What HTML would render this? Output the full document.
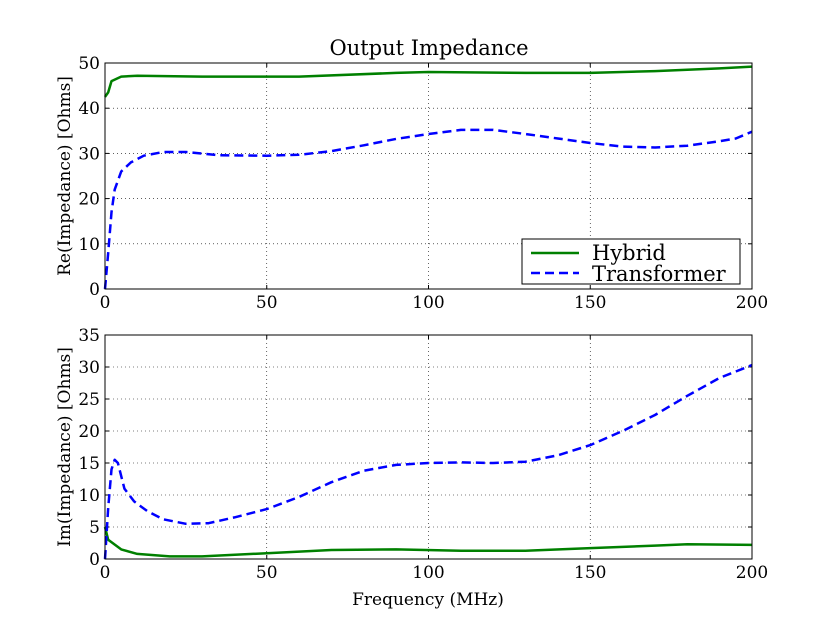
<!DOCTYPE html>
<html><head><meta charset="utf-8"><style>
html,body{margin:0;padding:0;background:#fff;}
svg{display:block;font-family:"DejaVu Serif","Liberation Serif",serif;}
text{font-size:17px;fill:#000;}
</style></head><body>
<svg id="s" width="836" height="624" viewBox="0 0 836 624" xmlns="http://www.w3.org/2000/svg">
<rect width="836" height="624" fill="#fff"/>
<g id="g"></g>
<text x="429" y="55" text-anchor="middle" style="font-size:21px">Output Impedance</text>
<text x="428" y="605" text-anchor="middle">Frequency (MHz)</text>
<text transform="translate(70,176) rotate(-90)" text-anchor="middle">Re(Impedance) [Ohms]</text>
<text transform="translate(70,447) rotate(-90)" text-anchor="middle">Im(Impedance) [Ohms]</text>
<rect x="522" y="239" width="218" height="45" fill="#fff" stroke="#000" stroke-width="1"/>
<line x1="531" y1="253" x2="579" y2="253" stroke="#008000" stroke-width="2.5"/>
<line x1="531" y1="273" x2="579" y2="273" stroke="#0000ff" stroke-width="2.5" stroke-dasharray="9,5"/>
<text x="592" y="260" style="font-size:21px">Hybrid</text>
<text x="592" y="281" style="font-size:21px">Transformer</text>
</svg>
<script>
var g=document.getElementById('g'),NS="http://www.w3.org/2000/svg";
function el(t,a){var e=document.createElementNS(NS,t);for(var k in a)e.setAttribute(k,a[k]);g.appendChild(e);return e;}
var X0=105,X1=752;
function ax(top,bot,ymax,step,series){
 var sx=function(v){return X0+(X1-X0)*v/200},sy=function(v){return bot-(bot-top)*v/ymax};
 for(var v=0;v<=200;v+=50){var x=sx(v);
  if(v>0&&v<200)el('line',{x1:x,y1:top,x2:x,y2:bot,stroke:'#000','stroke-width':0.6,'stroke-dasharray':'1,3'});
  el('line',{x1:x,y1:bot,x2:x,y2:bot-4,stroke:'#000'});el('line',{x1:x,y1:top,x2:x,y2:top+4,stroke:'#000'});
  var t=el('text',{x:x,y:bot+19,'text-anchor':'middle'});t.textContent=v;}
 for(var v=0;v<=ymax;v+=step){var y=sy(v);
  if(v>0&&v<ymax)el('line',{x1:X0,y1:y,x2:X1,y2:y,stroke:'#000','stroke-width':0.6,'stroke-dasharray':'1,3'});
  el('line',{x1:X0,y1:y,x2:X0+4,y2:y,stroke:'#000'});el('line',{x1:X1,y1:y,x2:X1-4,y2:y,stroke:'#000'});
  var t=el('text',{x:X0-5,y:y+6,'text-anchor':'end'});t.textContent=v;}
 series.forEach(function(s){var d=s.p.map(function(p,i){return (i?'L':'M')+sx(p[0]).toFixed(1)+','+sy(p[1]).toFixed(1)}).join('');
  var a={d:d,fill:'none',stroke:s.c,'stroke-width':2.5,'stroke-linejoin':'round'};if(s.dash)a['stroke-dasharray']='9,5';el('path',a);});
 el('rect',{x:X0,y:top,width:X1-X0,height:bot-top,fill:'none',stroke:'#000','stroke-width':1});
}
ax(63,289,50,10,[
 {c:'#008000',p:[[0,42.5],[1,43.5],[2,46],[5,47],[10,47.2],[30,47],[60,47],[90,47.8],[100,48],[130,47.8],[150,47.8],[170,48.2],[190,48.8],[200,49.2]]},
 {c:'#0000ff',dash:1,p:[[0,0],[1,8],[2,17],[3,22],[5,26],[8,28],[12,29.5],[18,30.3],[25,30.3],[35,29.6],[50,29.5],[60,29.7],[70,30.5],[80,31.8],[90,33.2],[100,34.3],[110,35.2],[120,35.2],[130,34.3],[140,33.3],[150,32.3],[160,31.5],[170,31.3],[180,31.7],[190,32.7],[195,33.3],[200,34.8]]}
]);
ax(335,559,35,5,[
 {c:'#008000',p:[[0,5],[1,3],[5,1.5],[10,0.8],[20,0.4],[30,0.4],[50,0.9],[70,1.4],[90,1.5],[110,1.3],[130,1.3],[150,1.7],[170,2.1],[180,2.3],[200,2.2]]},
 {c:'#0000ff',dash:1,p:[[0,0],[1,8],[2,14],[3,15.5],[4,15],[6,11],[9,9],[13,7.5],[18,6.2],[25,5.5],[32,5.6],[40,6.5],[50,7.8],[60,9.7],[70,12],[80,13.8],[90,14.7],[100,15],[110,15.1],[120,15],[130,15.2],[140,16.2],[150,17.8],[160,20],[170,22.5],[180,25.5],[190,28.3],[200,30.3]]}
]);
</script>
</body></html>
